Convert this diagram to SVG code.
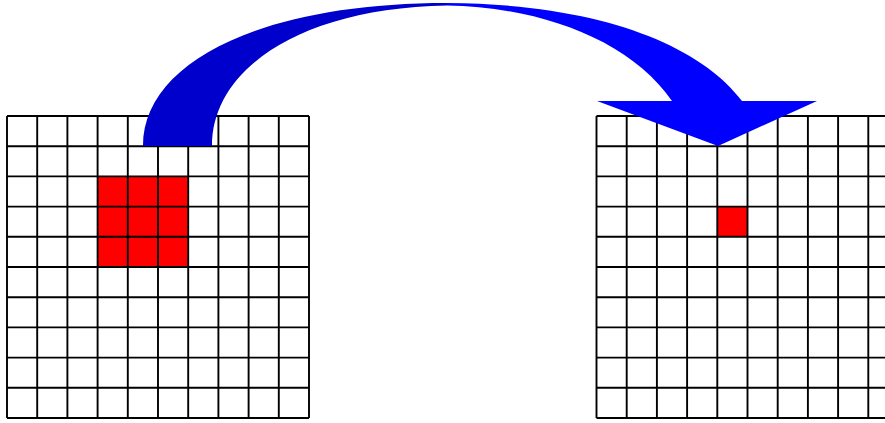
<svg xmlns="http://www.w3.org/2000/svg" width="885" height="423" viewBox="0 0 885 423">
<defs>
<style>
.grid{stroke:#000;stroke-width:1.9;fill:none}
.hot{fill:#ff0000}
.paper{fill:#fff}
</style>
</defs>
<rect width="885" height="423" fill="#fff"/>
<g id="left-grid">
<rect class="paper" x="7" y="116" width="302" height="302"/>
<rect class="hot" x="97.6" y="176.4" width="90.6" height="90.6"/>
<g class="grid">
<path d="M7,116 V418 M37.2,116 V418 M67.4,116 V418 M97.6,116 V418 M127.8,116 V418 M158,116 V418 M188.2,116 V418 M218.4,116 V418 M248.6,116 V418 M278.8,116 V418 M309,116 V418"/>
<path d="M7,116 H309 M7,146.2 H309 M7,176.4 H309 M7,206.6 H309 M7,236.8 H309 M7,267 H309 M7,297.2 H309 M7,327.4 H309 M7,357.6 H309 M7,387.8 H309 M7,418 H309"/>
</g>
</g>
<g id="right-grid">
<rect class="paper" x="596.5" y="116" width="302" height="302"/>
<rect class="hot" x="717.3" y="206.6" width="30.2" height="30.2"/>
<g class="grid">
<path d="M596.5,116 V418 M626.7,116 V418 M656.9,116 V418 M687.1,116 V418 M717.3,116 V418 M747.5,116 V418 M777.7,116 V418 M807.9,116 V418 M838.1,116 V418 M868.3,116 V418"/>
<path d="M596.5,116 H898 M596.5,146.2 H898 M596.5,176.4 H898 M596.5,206.6 H898 M596.5,236.8 H898 M596.5,267 H898 M596.5,297.2 H898 M596.5,327.4 H898 M596.5,357.6 H898 M596.5,387.8 H898 M596.5,418 H898"/>
</g>
</g>
<g id="connectors">
<path d="M143,146 C143,62 262,3 447,3 L447,5.5 C302,8 212,68 212,146 Z" fill="#0000cc"/>
<path d="M447,3 C600,4 700,45 742,101 L817,101 L718,146 L597,101 L672,101 C630,40 540,7 447,5.5 Z" fill="#0000ff"/>
</g>
</svg>
